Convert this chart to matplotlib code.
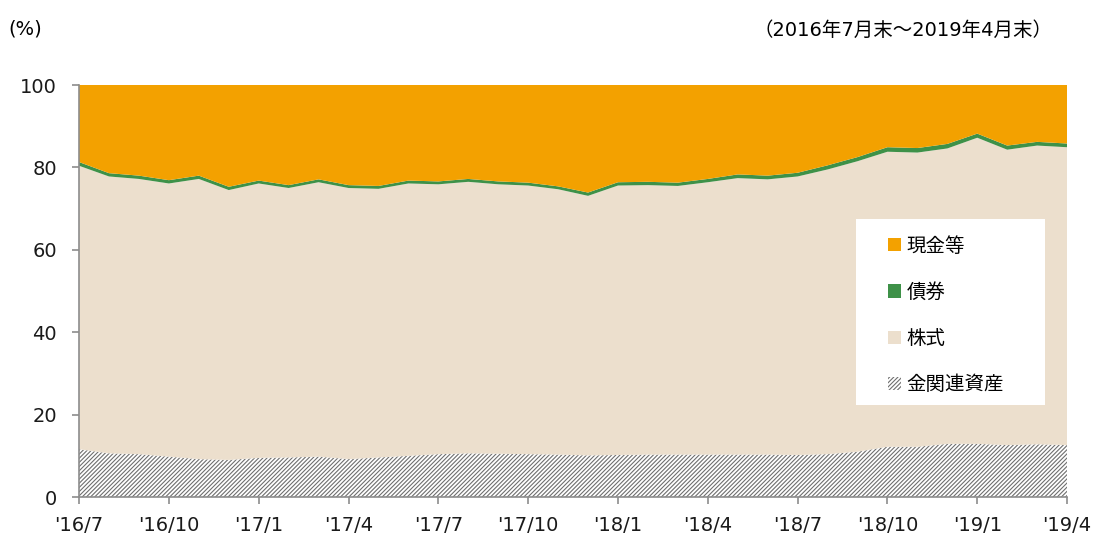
import matplotlib.pyplot as plt
from matplotlib.patches import Patch, Rectangle

plt.rcParams['font.family'] = ['DejaVu Sans', 'Noto Sans CJK JP']
plt.rcParams['hatch.linewidth'] = 0.8
plt.rcParams['hatch.color'] = '#6e6e6e'

# monthly, end of month, 2016/7 .. 2019/4
gold = [11.6, 10.6, 10.4, 9.8, 9.2, 9.0, 9.5, 9.6, 9.8, 9.2, 9.6, 10.0,
        10.4, 10.6, 10.5, 10.4, 10.3, 10.1, 10.2, 10.3, 10.3, 10.3, 10.3, 10.3,
        10.2, 10.4, 11.0, 12.2, 12.2, 12.9, 12.9, 12.6, 12.8, 12.6]
stock = [68.8, 67.2, 66.8, 66.3, 68.0, 65.5, 66.6, 65.4, 66.6, 65.8, 65.2, 66.1,
         65.5, 65.9, 65.4, 65.2, 64.4, 63.0, 65.4, 65.4, 65.2, 66.1, 67.1, 66.8,
         67.6, 69.1, 70.5, 71.6, 71.4, 71.7, 74.3, 71.7, 72.5, 72.3]
bond = [0.9, 0.8, 0.8, 0.8, 0.8, 0.8, 0.7, 0.7, 0.7, 0.7, 0.7, 0.7,
        0.7, 0.7, 0.7, 0.7, 0.7, 0.8, 0.8, 0.8, 0.8, 0.8, 0.9, 0.9,
        0.9, 1.0, 1.0, 1.1, 1.1, 1.1, 1.0, 1.0, 0.9, 0.9]
cash = [18.7, 21.4, 22.0, 23.1, 22.0, 24.7, 23.2, 24.3, 22.9, 24.3, 24.5, 23.2,
        23.4, 22.8, 23.4, 23.7, 24.6, 26.1, 23.6, 23.5, 23.7, 22.8, 21.7, 22.0,
        21.3, 19.5, 17.5, 15.1, 15.3, 14.3, 11.8, 14.7, 13.8, 14.2]
tick_labels = ["'16/7", "'16/10", "'17/1", "'17/4", "'17/7", "'17/10",
               "'18/1", "'18/4", "'18/7", "'18/10", "'19/1", "'19/4"]
names = ['金関連資産', '株式', '債券', '現金等']
colors = ['white', '#ecdfcd', '#3e9148', '#f3a100']

x = list(range(len(gold)))

fig = plt.figure(figsize=(11.01, 5.38), dpi=100)
ax = fig.add_axes([0.0718, 0.0762, 0.8974, 0.7658])

polys = ax.stackplot(x, gold, stock, bond, cash, colors=colors, linewidth=0)
polys[0].set_hatch('////////')
polys[0].set_edgecolor('#6e6e6e')
polys[0].set_linewidth(0)

ax.set_xlim(0, len(x) - 1)
ax.set_ylim(0, 100)
ax.set_yticks(range(0, 101, 20))
ax.set_xticks(x[::3])
ax.set_xticklabels(tick_labels)
ax.tick_params(axis='both', labelsize=14, colors='#8c8c8c', length=5, width=1.2,
               labelcolor='#1a1a1a')
ax.tick_params(axis='x', pad=9)
ax.tick_params(axis='y', pad=11)
for s in ['top', 'right']:
    ax.spines[s].set_visible(False)
for s in ['left', 'bottom']:
    ax.spines[s].set_color('#8c8c8c')
    ax.spines[s].set_linewidth(1.2)

# legend box
ax.add_patch(Rectangle((0.786, 0.223), 0.192, 0.452, transform=ax.transAxes,
                       facecolor='white', edgecolor='none', zorder=3))
handles = [Patch(facecolor=colors[3]), Patch(facecolor=colors[2]),
           Patch(facecolor=colors[1]),
           Patch(facecolor='white', hatch='////////', edgecolor='#6e6e6e', linewidth=0)]
leg = ax.legend(handles, [names[3], names[2], names[1], names[0]],
                loc='upper left', bbox_to_anchor=(0.8006, 0.677), frameon=False,
                handlelength=0.67, handleheight=0.67, handletextpad=0.3,
                labelspacing=1.3, prop={'family': ['Noto Sans CJK JP'], 'size': 14})
leg.set_zorder(4)

fig.text(0.008, 0.947, '(%)', fontsize=14, va='center')
fig.text(0.956, 0.943, '（2016年7月末～2019年4月末）', fontsize=14,
         ha='right', va='center')

fig.savefig('out.png', dpi=100)
